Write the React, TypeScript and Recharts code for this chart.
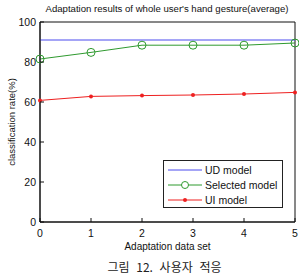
import React from "react";
import { Line, LineChart, ReferenceArea, XAxis, YAxis } from "recharts";

const adaptationSets = [0, 1, 2, 3, 4, 5];
const udModel = [91, 91, 91, 91, 91, 91];
const selectedModel = [81.5, 84.8, 88.4, 88.4, 88.4, 89.5];
const uiModel = [60.8, 62.8, 63.2, 63.5, 64, 64.8];
const yTicks = [0, 20, 40, 60, 80, 100];

const data = adaptationSets.map((x, i) => ({
    x,
    ud: udModel[i],
    selected: selectedModel[i],
    ui: uiModel[i],
}));

const FONT = "'Liberation Sans', Arial, sans-serif";
const TICK_LEN = 4;
const X_MARGIN = 6;
const Y_MARGIN = 4;

const series = [
    { key: "ud", name: "UD model", color: "#4a4aee", marker: "none" },
    { key: "selected", name: "Selected model", color: "#2f9a2f", marker: "circle" },
    { key: "ui", name: "UI model", color: "#ee2020", marker: "dot" },
];

// matlab-style ticks: short marks pointing into the plot box
const BottomTick = (props: any) => {
    const { x, y, payload } = props;
    const axisY = y - X_MARGIN;
    return (
        <g>
            <line x1={x} x2={x} y1={axisY} y2={axisY - TICK_LEN} stroke="#111" />
            <text x={x} y={y} dy={9} textAnchor="middle" fontSize={10.5} fill="#111" fontFamily={FONT}>
                {payload.value}
            </text>
        </g>
    );
};

const LeftTick = (props: any) => {
    const { x, y, payload } = props;
    const axisX = x + Y_MARGIN;
    return (
        <g>
            <line x1={axisX} x2={axisX + TICK_LEN} y1={y} y2={y} stroke="#111" />
            <text x={x} y={y} dy={4} textAnchor="end" fontSize={10.5} fill="#111" fontFamily={FONT}>
                {payload.value}
            </text>
        </g>
    );
};

const LegendBox = () => (
    <div
        style={{
            position: "absolute",
            left: 163,
            top: 160,
            width: 120,
            height: 48,
            boxSizing: "border-box",
            border: "1px solid #222",
            background: "#fff",
            padding: "1px 0 0 4px",
            fontFamily: FONT,
            fontSize: 10.5,
            color: "#111",
        }}
    >
        {series.map((s) => (
            <div key={s.key} style={{ display: "flex", alignItems: "center", height: 15 }}>
                <svg width={34} height={10} style={{ marginRight: 3 }}>
                    <line x1={0} y1={5} x2={34} y2={5} stroke={s.color} strokeWidth={1} />
                    {s.marker === "circle" && (
                        <circle cx={17} cy={5} r={3.5} fill="#fff" stroke={s.color} strokeWidth={1} />
                    )}
                    {s.marker === "dot" && <circle cx={17} cy={5} r={2} fill={s.color} />}
                </svg>
                <span>{s.name}</span>
            </div>
        ))}
    </div>
);

export default function App() {
    return (
        <div style={{ position: "absolute", left: 0, top: 0, width: 299, height: 275, background: "#fff" }}>
            <LineChart width={299} height={275} data={data} margin={{ top: 22, right: 4, bottom: 33, left: 0 }}>
                <XAxis
                    dataKey="x"
                    type="number"
                    domain={[0, 5]}
                    ticks={adaptationSets}
                    interval={0}
                    stroke="#111"
                    tick={<BottomTick />}
                    tickLine={false}
                    tickSize={0}
                    tickMargin={X_MARGIN}
                    height={20}
                    label={{ value: "Adaptation data set", position: "bottom", offset: 1, style: { fontSize: 10, fill: "#111", fontFamily: FONT } }}
                />
                <YAxis
                    domain={[0, 100]}
                    ticks={yTicks}
                    interval={0}
                    stroke="#111"
                    tick={<LeftTick />}
                    tickLine={false}
                    tickSize={0}
                    tickMargin={Y_MARGIN}
                    width={40}
                    label={{
                        value: "classification rate(%)",
                        angle: -90,
                        position: "insideLeft",
                        offset: 12,
                        style: { textAnchor: "middle", fontSize: 9.5, fill: "#111", fontFamily: FONT },
                    }}
                />
                {/* box frame around the plot */}
                <ReferenceArea x1={0} x2={5} y1={0} y2={100} fill="none" stroke="#111" strokeWidth={1} />
                <Line
                    dataKey="ud"
                    stroke="#4a4aee"
                    strokeWidth={1}
                    dot={false}
                    isAnimationActive={false}
                />
                <Line
                    dataKey="selected"
                    stroke="#2f9a2f"
                    strokeWidth={1}
                    dot={{ r: 4, fill: "none", stroke: "#2f9a2f", strokeWidth: 1 }}
                    isAnimationActive={false}
                />
                <Line
                    dataKey="ui"
                    stroke="#ee2020"
                    strokeWidth={1}
                    dot={{ r: 2, fill: "#ee2020", stroke: "#ee2020", strokeWidth: 0 }}
                    isAnimationActive={false}
                />
            </LineChart>
            <div
                style={{
                    position: "absolute",
                    top: 3,
                    left: 38,
                    width: 258,
                    textAlign: "center",
                    fontFamily: FONT,
                    fontSize: 9.6,
                    lineHeight: "12px",
                    color: "#111",
                    whiteSpace: "nowrap",
                }}
            >
                Adaptation results of whole user's hand gesture(average)
            </div>
            <LegendBox />
            <div
                style={{
                    position: "absolute",
                    top: 258,
                    left: 102,
                    width: 125,
                    textAlign: "center",
                    fontFamily: "'Noto Sans CJK KR', sans-serif",
                    fontSize: 12,
                    color: "#222",
                    wordSpacing: 4,
                    whiteSpace: "nowrap",
                }}
            >
                그림 12. 사용자 적응
            </div>
        </div>
    );
}
